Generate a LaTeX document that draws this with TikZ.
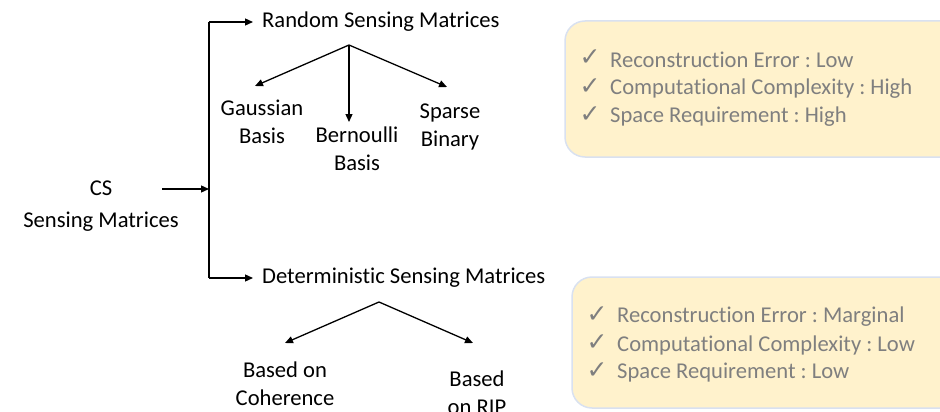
\documentclass[tikz,border=0pt]{standalone}
\usepackage{fontspec}
\setmainfont{Carlito}[Ligatures={NoCommon,NoContextual}]
\newfontfamily\symfont{DejaVu Sans}
\usetikzlibrary{arrows.meta}
\definecolor{boxfill}{HTML}{FFF2CC}
\definecolor{boxline}{HTML}{D9E1F0}
\definecolor{graytxt}{HTML}{7F7F7F}
\frenchspacing
\tikzset{
  lbl/.style={inner sep=0pt, align=center, font=\fontsize{22.6}{27.6}\selectfont},
  arr/.style={line width=1.3pt, -{Triangle[length=8pt,width=7pt]}},
  plain/.style={line width=1.3pt},
  infobox/.style={fill=boxfill, draw=boxline, line width=1.5pt, rounded corners=20pt},
  chk/.style={inner sep=0pt, text=graytxt, font=\symfont\fontsize{25}{28}\selectfont},
  btxt/.style={inner sep=0pt, anchor=west, text=graytxt, font=\fontsize{22.6}{27.6}\selectfont}
}
\begin{document}
\begin{tikzpicture}[x=1pt,y=-1pt]
\useasboundingbox (0,0) rectangle (940,412);
% info boxes
\path[infobox] (565,21) rectangle (965,157);
\path[infobox] (572,277) rectangle (965,408);
% left tree nodes
\node[lbl] (cs) at (101,206) {CS\\[5pt]Sensing Matrices};
\node[lbl, anchor=west] (rsm) at (262,22) {Random Sensing Matrices};
\node[lbl, anchor=west] (dsm) at (262,278) {Deterministic Sensing Matrices};
\node[lbl] (gauss) at (262,122) {Gaussian\\Basis};
\node[lbl] (bern) at (357,149) {Bernoulli\\Basis};
\node[lbl] (sparse) at (450,127) {Sparse\\Binary};
\node[lbl] (coh) at (285,384) {Based on\\Coherence};
\node[lbl] (rip) at (477,393) {Based\\on RIP};
% coordinates
\coordinate (top) at (209,22);
\coordinate (bot) at (209,278);
\coordinate (join) at (209,189);
\coordinate (csout) at (162,189);
\coordinate (ra) at (349,45);
\coordinate (gt) at (255,86);
\coordinate (bt) at (349,122);
\coordinate (st) at (447,87);
\coordinate (da) at (379,302);
\coordinate (ct) at (285,343);
\coordinate (rt) at (473,343);
% connectors
\draw[plain] (top) -- (bot);
\draw[arr] (csout) -- (join);
\draw[arr, shorten >=9pt] (top) -- (rsm.west);
\draw[arr, shorten >=9pt] (bot) -- (dsm.west);
\draw[arr] (ra) -- (gt);
\draw[arr] (ra) -- (bt);
\draw[arr] (ra) -- (st);
\draw[arr] (da) -- (ct);
\draw[arr] (da) -- (rt);
% box texts
\node[chk] (k1) at (590,58) {✓};
\node[chk] (k2) at (590,87) {✓};
\node[chk] (k3) at (590,115) {✓};
\node[btxt] (t1) at (610,60) {Reconstruction Error : Low};
\node[btxt] (t2) at (610,89) {Computational Complexity : High};
\node[btxt] (t3) at (610,117) {Space Requirement : High};
\node[chk] (k4) at (597,315) {✓};
\node[chk] (k5) at (597,343) {✓};
\node[chk] (k6) at (597,371) {✓};
\node[btxt] (t4) at (617,317) {Reconstruction Error : Marginal};
\node[btxt] (t5) at (617,345) {Computational Complexity : Low};
\node[btxt] (t6) at (617,373) {Space Requirement : Low};
\end{tikzpicture}
\end{document}
